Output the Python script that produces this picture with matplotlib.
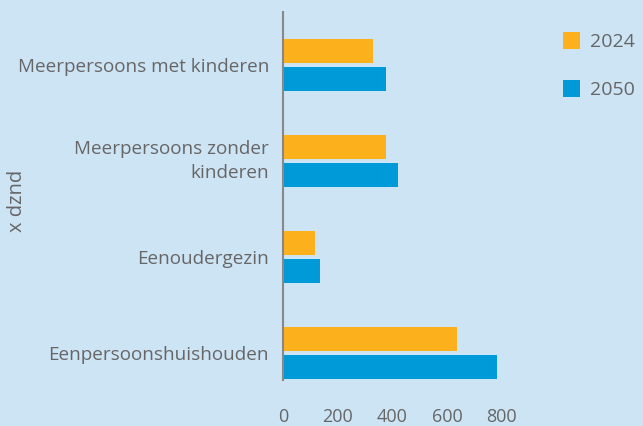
import matplotlib
matplotlib.use("Agg")
import matplotlib.pyplot as plt
import numpy as np

categories = ["Meerpersoons met kinderen", "Meerpersoons zonder\nkinderen", "Eenoudergezin", "Eenpersoonshuishouden"]
values_2024 = [328, 376, 117, 636]
values_2050 = [375, 419, 137, 783]
series_labels = ["2024", "2050"]
xticks = [0, 200, 400, 600, 800]

bg = "#cde4f5"
c2024 = "#fbb01c"
c2050 = "#009ad9"
txt = "#666666"

plt.rcParams['font.family'] = ['Open Sans', 'DejaVu Sans']

fig = plt.figure(figsize=(6.43, 4.26), dpi=100, facecolor=bg)
ax = fig.add_axes([283/643, 1-380/426, 257/643, 368/426])
ax.set_facecolor(bg)

y = np.arange(len(categories))
h = 0.25
off = 0.146
ax.barh(y - off, values_2024, height=h, color=c2024, label=series_labels[0])
ax.barh(y + off, values_2050, height=h, color=c2050, label=series_labels[1])

ax.set_ylim(3 + 27.5/96, -53/96)
ax.set_xlim(0, 940)
ax.set_yticks(y)
ax.set_yticklabels(categories, fontsize=13.6, color=txt, ha='right',
                   multialignment='right', linespacing=1.45)
for lab in ax.get_yticklabels():
    if "\n" in lab.get_text():
        lab.set_va('center')
ax.set_xticks(xticks)
ax.set_xticklabels([str(v) for v in xticks], fontsize=13, color=txt)
ax.tick_params(axis='both', length=0)
ax.tick_params(axis='y', pad=10)
ax.tick_params(axis='x', pad=20)
for s in ['top', 'right', 'bottom']:
    ax.spines[s].set_visible(False)
ax.spines['left'].set_color('#888888')
ax.spines['left'].set_linewidth(1.5)

fig.text(17/643, 1-201/426, "x dznd", rotation=90, fontsize=14.5, color=txt,
         ha='center', va='center')

fig.legend(loc='upper left', bbox_to_anchor=(545/643, 1-15/426), frameon=False,
           handlelength=0.9, handleheight=0.9, labelspacing=1.5, fontsize=14,
           labelcolor=txt, handletextpad=0.5)

fig.savefig("out.png", dpi=100, facecolor=bg)
